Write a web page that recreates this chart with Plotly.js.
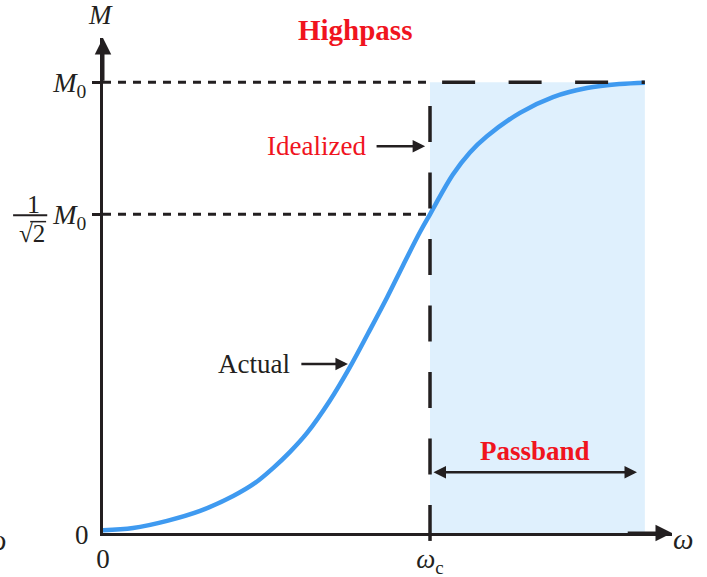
<!DOCTYPE html>
<html>
<head>
<meta charset="utf-8">
<script src="https://cdn.plot.ly/plotly-3.0.1.min.js"></script>
<style>
  html, body { margin: 0; padding: 0; background: #fff; }
  #plot { width: 707px; height: 577px; }
</style>
</head>
<body>
<div id="plot"></div>
<script>
// frequency in units of the cutoff (wc = 1), magnitude in units of M0
const omega = [0, 0.092, 0.196, 0.297, 0.398, 0.465, 0.520, 0.572, 0.624, 0.694, 0.755, 0.810,
               0.869, 0.917, 0.969, 1.0, 1.070, 1.122, 1.174, 1.275, 1.376, 1.480, 1.581, 1.657];
const magnitude = [0.006, 0.011, 0.027, 0.049, 0.082, 0.111, 0.144, 0.180, 0.222, 0.294, 0.368, 0.442,
                   0.523, 0.593, 0.667, 0.707, 0.795, 0.844, 0.880, 0.932, 0.967, 0.987, 0.996, 0.999];

const cutoff = 1;
const passbandEnd = 1.657;
const halfPower = 0.7071;
const yTickVals = [halfPower, 1];
const yTickText = ['<i>M</i><sub>0</sub>', '<i>M</i><sub>0</sub>'];
const xTickVals = [0, cutoff];
const xTickText = ['0', '<i>ω</i><sub>c</sub>'];

const INK = '#231f20';
const RED = '#f0141e';
const SERIF = 'Liberation Serif, Times New Roman, serif';

const curve = {
    x: omega,
    y: magnitude,
    mode: 'lines',
    type: 'scatter',
    line: { color: '#3f9af0', width: 4.5, shape: 'spline', smoothing: 1 },
    hoverinfo: 'skip'
};

const txt = (size, color) => ({ family: SERIF, size, color });

const layout = {
    width: 707,
    height: 577,
    margin: { l: 103, r: 35, t: 38, b: 44 },
    paper_bgcolor: '#fff',
    plot_bgcolor: 'rgba(0,0,0,0)',
    showlegend: false,
    font: txt(27, INK),
    xaxis: {
        range: [0, 1.740],
        showgrid: false,
        zeroline: false,
        showline: true,
        linecolor: INK,
        linewidth: 3,
        ticks: '',
        tickvals: xTickVals,
        ticktext: xTickText,
        tickfont: txt(27, INK)
    },
    yaxis: {
        range: [0, 1.098],
        showgrid: false,
        zeroline: false,
        showline: true,
        linecolor: INK,
        linewidth: 3,
        ticks: 'outside',
        ticklen: 8,
        tickwidth: 3,
        tickcolor: INK,
        tickvals: yTickVals,
        ticktext: yTickText,
        tickfont: txt(28, INK)
    },
    shapes: [
        // passband shading
        { type: 'rect', xref: 'x', yref: 'y', x0: cutoff, x1: passbandEnd, y0: 0, y1: 1,
          fillcolor: '#dff0fd', line: { width: 0 }, layer: 'below' },
        // dotted guides
        { type: 'line', xref: 'x', yref: 'y', x0: 0, x1: cutoff, y0: 1, y1: 1,
          line: { color: INK, width: 3, dash: '8px,7px' } },
        { type: 'line', xref: 'x', yref: 'y', x0: 0, x1: cutoff, y0: halfPower, y1: halfPower,
          line: { color: INK, width: 3, dash: '8px,7px' } },
        // idealized response (vertical edge runs a little below the axis)
        { type: 'line', xref: 'x', yref: 'paper', x0: cutoff, x1: cutoff, y0: -0.016, y1: 0.911,
          line: { color: INK, width: 3.5, dash: '36px,30.5px' } },
        { type: 'line', xref: 'x', yref: 'y', x0: 1.037, x1: passbandEnd, y0: 1, y1: 1,
          line: { color: INK, width: 3.5, dash: '33px,33.5px' } },
        // 1/sqrt(2) fraction bar and radical overline
        { type: 'line', xref: 'paper', yref: 'paper', x0: -0.158, x1: -0.098, y0: 0.642, y1: 0.642,
          line: { color: INK, width: 2 } },
        { type: 'line', xref: 'paper', yref: 'paper', x0: -0.128, x1: -0.100, y0: 0.629, y1: 0.629,
          line: { color: INK, width: 1.5 } }
    ],
    annotations: [
        { text: '<b>Highpass</b>', xref: 'paper', yref: 'paper', x: 0.443, y: 1.016,
          xanchor: 'center', yanchor: 'middle', showarrow: false, font: txt(29, RED) },
        { text: '<i>M</i>', xref: 'paper', yref: 'paper', x: -0.005, y: 1.046,
          xanchor: 'center', yanchor: 'middle', showarrow: false, font: txt(27, INK) },
        { text: '<i>ω</i>', xref: 'paper', yref: 'paper', x: 1.019, y: -0.012,
          xanchor: 'center', yanchor: 'middle', showarrow: false, font: txt(29, INK) },
        { text: '<i>ω</i>', xref: 'paper', yref: 'paper', x: -0.167, y: -0.014,
          xanchor: 'right', yanchor: 'middle', showarrow: false, font: txt(29, INK) },
        { text: '0', xref: 'paper', yref: 'paper', x: -0.021, y: -0.004,
          xanchor: 'right', yanchor: 'middle', showarrow: false, font: txt(27, INK) },
        { text: '1', xref: 'paper', yref: 'y', x: -0.123, y: 0.729, xanchor: 'center', yanchor: 'middle',
          showarrow: false, font: txt(26, INK) },
        { text: '√2', xref: 'paper', yref: 'y', x: -0.125, y: 0.665, xanchor: 'center', yanchor: 'middle',
          showarrow: false, font: txt(25, INK) },
        // axis arrowheads
        { text: '', xref: 'x', yref: 'y', axref: 'x', ayref: 'y', x: 0, y: 1.098, ax: 0, ay: 1.0,
          showarrow: true, arrowhead: 2, arrowsize: 1.1, arrowwidth: 3, arrowcolor: INK },
        { text: '', xref: 'x', yref: 'y', axref: 'x', ayref: 'y', x: 1.740, y: 0, ax: 1.6, ay: 0,
          showarrow: true, arrowhead: 2, arrowsize: 1.1, arrowwidth: 3, arrowcolor: INK },
        // Idealized label
        { text: 'Idealized', xref: 'x', yref: 'y', x: 0.81, y: 0.858, xanchor: 'right',
          showarrow: false, font: txt(27, RED) },
        { text: '', xref: 'x', yref: 'y', axref: 'x', ayref: 'y', x: 0.985, y: 0.858, ax: 0.832, ay: 0.858,
          showarrow: true, arrowhead: 2, arrowsize: 1, arrowwidth: 2.5, arrowcolor: INK },
        // Actual label
        { text: 'Actual', xref: 'x', yref: 'y', x: 0.578, y: 0.375, xanchor: 'right',
          showarrow: false, font: txt(27, INK) },
        { text: '', xref: 'x', yref: 'y', axref: 'x', ayref: 'y', x: 0.749, y: 0.375, ax: 0.602, ay: 0.375,
          showarrow: true, arrowhead: 2, arrowsize: 1, arrowwidth: 2.5, arrowcolor: INK },
        // Passband label
        { text: '<b>Passband</b>', xref: 'x', yref: 'y', x: 1.321, y: 0.182,
          showarrow: false, font: txt(27, RED) },
        { text: '', xref: 'x', yref: 'y', axref: 'x', ayref: 'y', x: 1.633, y: 0.135, ax: 1.006, ay: 0.135,
          showarrow: true, arrowhead: 2, startarrowhead: 2, arrowside: 'end+start',
          arrowsize: 1, arrowwidth: 2.5, arrowcolor: INK }
    ]
};

Plotly.newPlot('plot', [curve], layout, { displayModeBar: false, staticPlot: true });
</script>
</body>
</html>
